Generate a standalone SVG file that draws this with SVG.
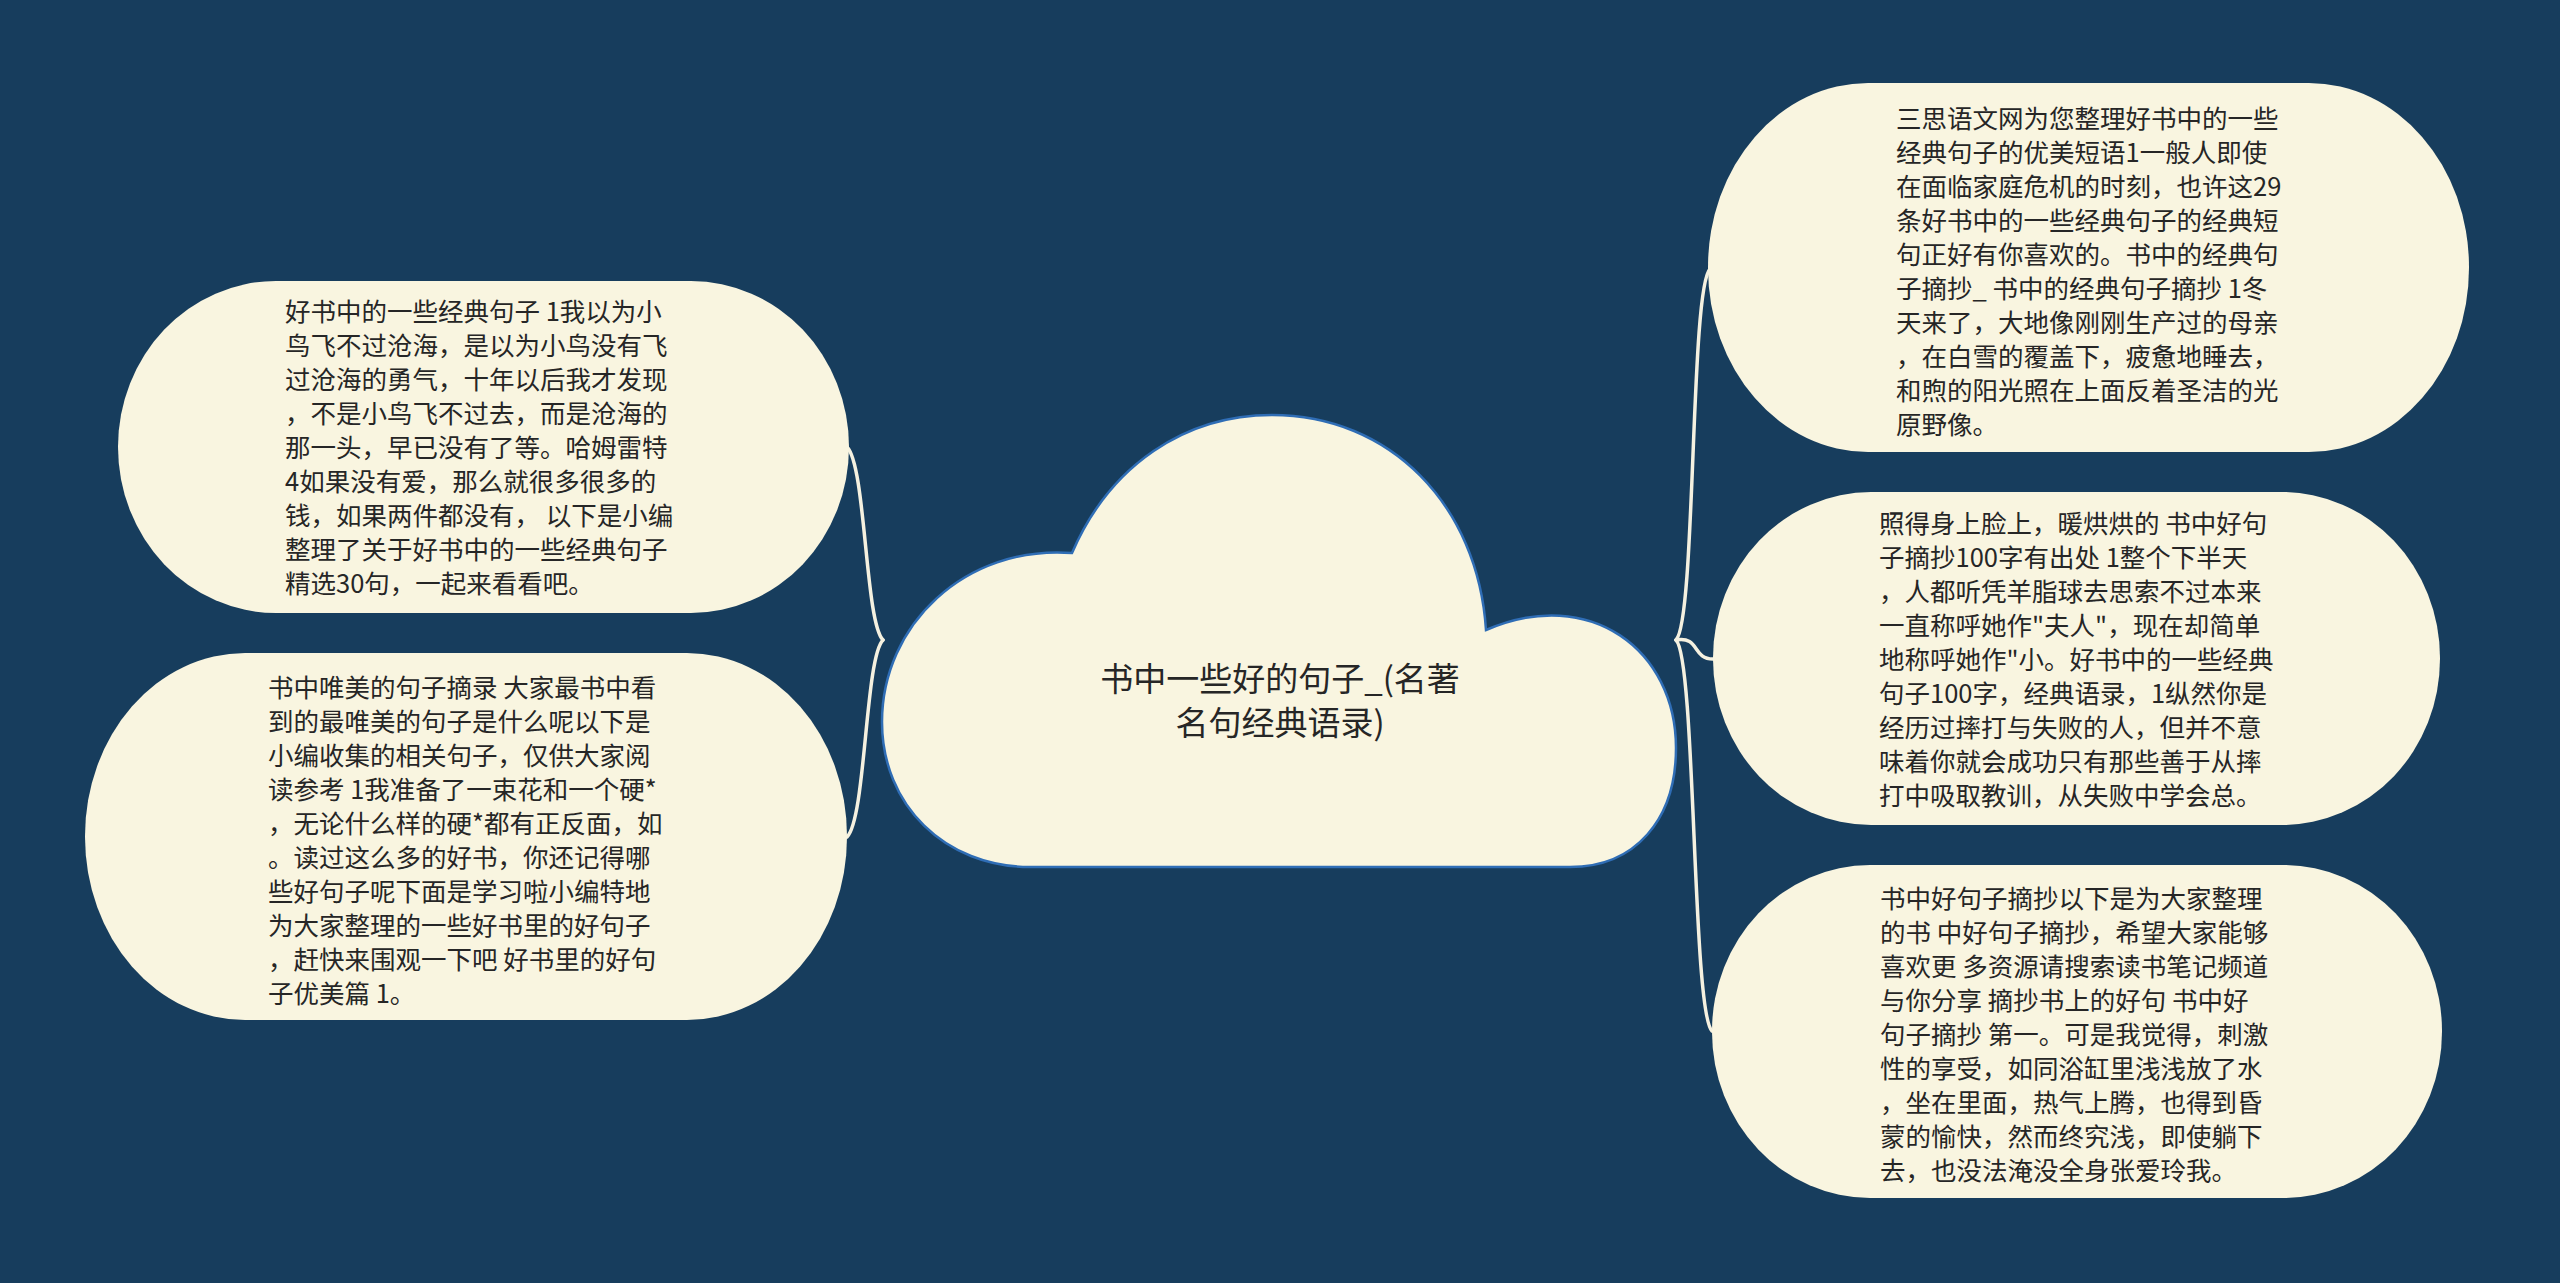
<svg xmlns="http://www.w3.org/2000/svg" width="2560" height="1283" viewBox="0 0 2560 1283">
<style>
.bg{fill:#173d5d}
.node{fill:#f9f5e0}
.cloud{fill:#f9f5e0;stroke:#2f6db5;stroke-width:2.5}
.txt{font-family:"Noto Sans CJK SC","Noto Sans",sans-serif;font-size:25.5px;fill:#262626}
.title{font-family:"Noto Sans CJK SC","Noto Sans",sans-serif;font-size:33px;fill:#262626;text-anchor:middle}
.conn{fill:none;stroke:#f5f1e0;stroke-width:3.5;stroke-linecap:round}
</style>
<rect class="bg" x="0" y="0" width="2560" height="1283"/>
<g id="connectors">
<path class="conn" d="M883,640 C865,622 866,466 847,447"/>
<path class="conn" d="M883,640 C865,658 866,818 847,837"/>
<path class="conn" d="M1676,640 C1696,620 1690,289 1710,269"/>
<path class="conn" d="M1676,640 C1700,636 1692,659 1713,659"/>
<path class="conn" d="M1676,640 C1696,660 1692,1011 1712,1031"/>
</g>
<g id="node-center">
<path class="cloud" d="M1030,867 C945,867 882,805 882,722 C882,625 965,545 1072,553 C1110,465 1185,415 1272,415 C1390,415 1478,505 1486,630 C1590,585 1676,650 1676,748 C1676,820 1635,867 1570,867 Z"/>
<text class="title" x="1280" y="691">书中一些好的句子_(名著</text>
<text class="title" x="1280" y="735">名句经典语录)</text>
</g>
<g id="node-l1">
<rect class="node" x="118" y="281" width="731" height="332" rx="158" ry="166"/>
<text class="txt" x="285">
<tspan x="285" y="320.5">好书中的一些经典句子 1我以为小</tspan>
<tspan x="285" y="354.5">鸟飞不过沧海，是以为小鸟没有飞</tspan>
<tspan x="285" y="388.5">过沧海的勇气，十年以后我才发现</tspan>
<tspan x="285" y="422.5">，不是小鸟飞不过去，而是沧海的</tspan>
<tspan x="285" y="456.5">那一头，早已没有了等。哈姆雷特</tspan>
<tspan x="285" y="490.5">4如果没有爱，那么就很多很多的</tspan>
<tspan x="285" y="524.5">钱，如果两件都没有， 以下是小编</tspan>
<tspan x="285" y="558.5">整理了关于好书中的一些经典句子</tspan>
<tspan x="285" y="592.5">精选30句，一起来看看吧。</tspan>
</text>
</g>
<g id="node-l2">
<rect class="node" x="85" y="653" width="762" height="367" rx="160" ry="183"/>
<text class="txt" x="268">
<tspan x="268" y="696.5">书中唯美的句子摘录 大家最书中看</tspan>
<tspan x="268" y="730.5">到的最唯美的句子是什么呢以下是</tspan>
<tspan x="268" y="764.5">小编收集的相关句子，仅供大家阅</tspan>
<tspan x="268" y="798.5">读参考 1我准备了一束花和一个硬*</tspan>
<tspan x="268" y="832.5">，无论什么样的硬*都有正反面，如</tspan>
<tspan x="268" y="866.5">。读过这么多的好书，你还记得哪</tspan>
<tspan x="268" y="900.5">些好句子呢下面是学习啦小编特地</tspan>
<tspan x="268" y="934.5">为大家整理的一些好书里的好句子</tspan>
<tspan x="268" y="968.5">，赶快来围观一下吧 好书里的好句</tspan>
<tspan x="268" y="1002.5">子优美篇 1。</tspan>
</text>
</g>
<g id="node-r1">
<rect class="node" x="1708" y="83" width="761" height="369" rx="160" ry="184"/>
<text class="txt" x="1896">
<tspan x="1896" y="127.5">三思语文网为您整理好书中的一些</tspan>
<tspan x="1896" y="161.5">经典句子的优美短语1一般人即使</tspan>
<tspan x="1896" y="195.5">在面临家庭危机的时刻，也许这29</tspan>
<tspan x="1896" y="229.5">条好书中的一些经典句子的经典短</tspan>
<tspan x="1896" y="263.5">句正好有你喜欢的。书中的经典句</tspan>
<tspan x="1896" y="297.5">子摘抄_ 书中的经典句子摘抄 1冬</tspan>
<tspan x="1896" y="331.5">天来了，大地像刚刚生产过的母亲</tspan>
<tspan x="1896" y="365.5">，在白雪的覆盖下，疲惫地睡去，</tspan>
<tspan x="1896" y="399.5">和煦的阳光照在上面反着圣洁的光</tspan>
<tspan x="1896" y="433.5">原野像。</tspan>
</text>
</g>
<g id="node-r2">
<rect class="node" x="1713" y="492" width="727" height="333" rx="158" ry="166"/>
<text class="txt" x="1879">
<tspan x="1879" y="532.5">照得身上脸上，暖烘烘的 书中好句</tspan>
<tspan x="1879" y="566.5">子摘抄100字有出处 1整个下半天</tspan>
<tspan x="1879" y="600.5">，人都听凭羊脂球去思索不过本来</tspan>
<tspan x="1879" y="634.5">一直称呼她作"夫人"，现在却简单</tspan>
<tspan x="1879" y="668.5">地称呼她作"小。好书中的一些经典</tspan>
<tspan x="1879" y="702.5">句子100字，经典语录，1纵然你是</tspan>
<tspan x="1879" y="736.5">经历过摔打与失败的人，但并不意</tspan>
<tspan x="1879" y="770.5">味着你就会成功只有那些善于从摔</tspan>
<tspan x="1879" y="804.5">打中吸取教训，从失败中学会总。</tspan>
</text>
</g>
<g id="node-r3">
<rect class="node" x="1712" y="865" width="730" height="333" rx="158" ry="166"/>
<text class="txt" x="1880">
<tspan x="1880" y="907.5">书中好句子摘抄以下是为大家整理</tspan>
<tspan x="1880" y="941.5">的书 中好句子摘抄，希望大家能够</tspan>
<tspan x="1880" y="975.5">喜欢更 多资源请搜索读书笔记频道</tspan>
<tspan x="1880" y="1009.5">与你分享 摘抄书上的好句 书中好</tspan>
<tspan x="1880" y="1043.5">句子摘抄 第一。可是我觉得，刺激</tspan>
<tspan x="1880" y="1077.5">性的享受，如同浴缸里浅浅放了水</tspan>
<tspan x="1880" y="1111.5">，坐在里面，热气上腾，也得到昏</tspan>
<tspan x="1880" y="1145.5">蒙的愉快，然而终究浅，即使躺下</tspan>
<tspan x="1880" y="1179.5">去，也没法淹没全身张爱玲我。</tspan>
</text>
</g>
</svg>
